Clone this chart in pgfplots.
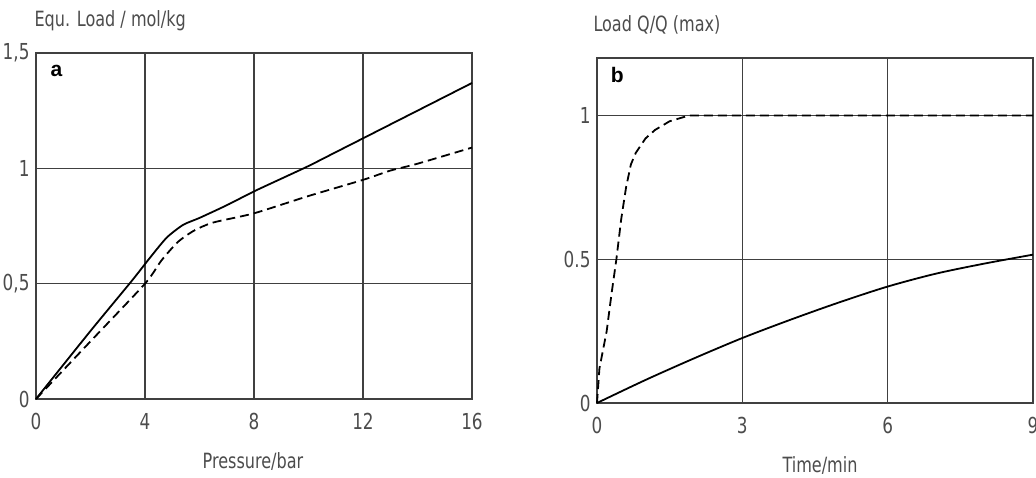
\documentclass[border=0pt]{standalone}
\usepackage{pgfplots}
\pgfplotsset{compat=1.18}
\usepackage{fontspec}
\setmainfont{DejaVu Sans Condensed}[FakeStretch=0.85]
\newfontfamily\boldlab{Liberation Sans}
\definecolor{txt}{gray}{0.3}
\definecolor{gridc}{gray}{0.25}
\begin{document}
\begin{tikzpicture}[x=1pt,y=1pt]
\pgfplotsset{
  every axis/.style={
    scale only axis,
    axis line style={gridc,line width=1.4pt},
    grid=major,
    major grid style={gridc,line width=1.2pt},
    tick style={draw=none},
    tick label style={font=\fontsize{22}{22}\selectfont, text=txt},
    /pgf/number format/assume math mode=true,
    xticklabel style={yshift=-11pt},
    yticklabel style={xshift=-3pt},
    clip=false,
  }
}
% panel a
\begin{axis}[
  at={(36pt,79pt)}, anchor=south west,
  width=436pt, height=346pt,
  xmin=0, xmax=16, ymin=0, ymax=1.5,
  xtick={0,4,8,12,16},
  ytick={0,0.5,1,1.5},
  yticklabels={0,{0,5},1,{1,5}},
]
\addplot[black, line width=1.8pt, smooth, tension=0.4] coordinates {
(0,0) (2,0.295) (3.5,0.51) (4.2,0.615) (4.8,0.70) (5.4,0.755) (6,0.785) (7,0.84) (8,0.90) (9,0.955) (10,1.01) (11,1.07) (12,1.13) (13,1.19) (14,1.25) (15,1.31) (16,1.37)};
\addplot[black, line width=1.8pt, dash pattern=on 9pt off 5pt, smooth, tension=0.4] coordinates {
(0,0) (2,0.25) (4,0.50) (4.6,0.60) (5.2,0.68) (5.8,0.73) (6.5,0.765) (8,0.805) (10,0.88) (12,0.95) (13,0.99) (14,1.02) (16,1.09)};
\node[font=\boldlab\bfseries\fontsize{21}{21}\selectfont, anchor=center] at (axis cs:0.75,1.42) {a};
\end{axis}
% panel b
\begin{axis}[
  at={(597pt,75pt)}, anchor=south west,
  width=436pt, height=345pt,
  xmin=0, xmax=9, ymin=0, ymax=1.2,
  xtick={0,3,6,9},
  ytick={0,0.5,1},
  yticklabels={0,0.5,1},
]
\addplot[black, line width=1.8pt, smooth] coordinates {
(0,0) (1,0.08) (2,0.155) (3,0.226) (4,0.29) (5,0.35) (6,0.405) (7,0.45) (8,0.485) (9,0.516)};
\addplot[black, line width=1.8pt, dash pattern=on 9pt off 5pt] coordinates {
(0,0) (0.05,0.12) (0.2,0.25) (0.3,0.38) (0.4,0.5) (0.5,0.64) (0.6,0.75) (0.7,0.83) (0.8,0.87) (1.0,0.92) (1.2,0.95) (1.5,0.98) (1.9,1.0) (9,1.0)};
\node[font=\boldlab\bfseries\fontsize{21}{21}\selectfont, anchor=center] at (axis cs:0.42,1.14) {b};
\end{axis}
\node[anchor=west, text=txt, font=\fontsize{21}{21}\selectfont] at (31,457) {Equ. Load / mol/kg};
\node[anchor=west, text=txt, font=\fontsize{21}{21}\selectfont] at (590,453) {Load Q/Q (max)};
\node[anchor=center, text=txt, font=\fontsize{21}{21}\selectfont] at (253,16) {Pressure/bar};
\node[anchor=center, text=txt, font=\fontsize{21}{21}\selectfont] at (820,12) {Time/min};
\pgfresetboundingbox
\path[use as bounding box] (0,0) rectangle (1036,478);
\end{tikzpicture}
\end{document}
